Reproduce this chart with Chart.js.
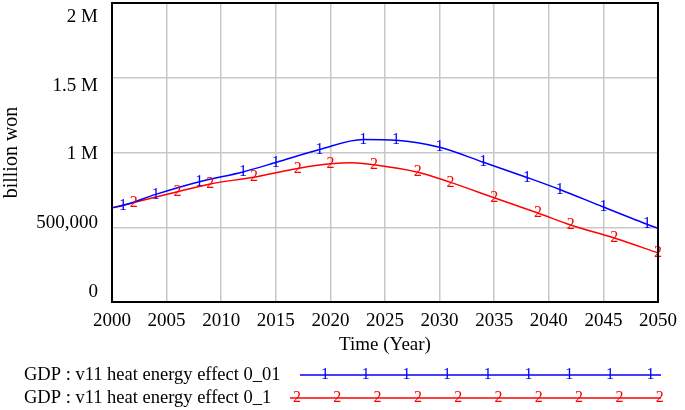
<!DOCTYPE html>
<html>
<head>
<meta charset="utf-8">
<script src="https://cdn.jsdelivr.net/npm/chart.js@4"></script>
<style>
  html, body { margin: 0; padding: 0; background: #fff; }
  #wrap { width: 685px; height: 410px; }
</style>
</head>
<body>
<div id="wrap"><canvas id="chart" width="685" height="410"></canvas></div>
<script>
// GDP run 1 (heat energy effect 0_01)
const blueYears = [2000, 2001, 2004, 2008, 2012, 2015, 2019, 2023, 2026, 2030, 2034, 2038, 2041, 2045, 2049, 2050];
const blueVals  = [630000, 645000, 720000, 805000, 870000, 933000, 1020000, 1087000, 1082000, 1035000, 935000, 833000, 753000, 635000, 520000, 493000];
const blueMarks = [2001, 2004, 2008, 2012, 2015, 2019, 2023, 2026, 2030, 2034, 2038, 2041, 2045, 2049];

// GDP run 2 (heat energy effect 0_1)
const redYears = [2000, 2002, 2006, 2009, 2013, 2017, 2020, 2022, 2024, 2028, 2031, 2035, 2039, 2042, 2046, 2050];
const redVals  = [630000, 665000, 738000, 790000, 835000, 893000, 924000, 932000, 918000, 868000, 800000, 697000, 595000, 515000, 428000, 328000];
const redMarks = [2002, 2006, 2009, 2013, 2017, 2020, 2024, 2028, 2031, 2035, 2039, 2042, 2046, 2050];

const yTicks = [0, 500000, 1000000, 1500000, 2000000];
const yTickLabels = ['0', '500,000', '1 M', '1.5 M', '2 M'];

const seriesNames = ['GDP : v11 heat energy effect 0_01', 'GDP : v11 heat energy effect 0_1'];
const seriesColors = ['#0000ff', '#ff0000'];
const seriesGlyphs = ['1', '2'];

const FONT = '"Liberation Serif", "Times New Roman", serif';

function toPoints(xs, ys) {
    return xs.map((x, i) => ({ x: x, y: ys[i] }));
}

// number glyphs on the lines, Vensim style
const markerPlugin = {
    id: 'markers',
    afterDatasetsDraw(chart) {
        const ctx = chart.ctx;
        const marks = [blueMarks, redMarks];
        ctx.save();
        ctx.font = '16px ' + FONT;
        ctx.textAlign = 'center';
        ctx.textBaseline = 'middle';
        chart.data.datasets.forEach((ds, di) => {
            const meta = chart.getDatasetMeta(di);
            ds.data.forEach((p, i) => {
                if (marks[di].indexOf(p.x) === -1) return;
                const el = meta.data[i];
                ctx.fillStyle = seriesColors[di];
                ctx.fillText(seriesGlyphs[di], el.x, el.y);
            });
        });
        ctx.restore();
    }
};

// frame, y labels and bottom legend
const framePlugin = {
    id: 'frame',
    afterDraw(chart) {
        const ctx = chart.ctx;
        const a = chart.chartArea;
        const ys = chart.scales.y;
        ctx.save();
        ctx.strokeStyle = '#000';
        ctx.lineWidth = 2;
        ctx.strokeRect(a.left, a.top, a.right - a.left, a.bottom - a.top);

        // y tick labels (drifted like the original)
        ctx.font = '19px ' + FONT;
        ctx.fillStyle = '#000';
        ctx.textAlign = 'right';
        ctx.textBaseline = 'middle';
        yTicks.forEach((v, i) => {
            const off = -10 + 24 * (v / ys.max);
            ctx.fillText(yTickLabels[i], a.left - 14, ys.getPixelForValue(v) + off);
        });

        // legend
        const rows = [
            { y: 375, x0: 300, x1: 661, first: 325, step: 40.7, n: 9 },
            { y: 398, x0: 290, x1: 661, first: 297, step: 40.3, n: 10 }
        ];
        rows.forEach((r, i) => {
            ctx.textAlign = 'left';
            ctx.font = '18.5px ' + FONT;
            ctx.fillStyle = '#000';
            ctx.fillText(seriesNames[i], 24, r.y);
            ctx.strokeStyle = seriesColors[i];
            ctx.lineWidth = 1.5;
            ctx.beginPath();
            ctx.moveTo(r.x0, r.y);
            ctx.lineTo(r.x1, r.y);
            ctx.stroke();
            ctx.textAlign = 'center';
            ctx.font = '16px ' + FONT;
            ctx.fillStyle = seriesColors[i];
            for (let k = 0; k < r.n; k++) {
                ctx.fillText(seriesGlyphs[i], r.first + k * r.step, r.y);
            }
        });
        ctx.restore();
    }
};

new Chart(document.getElementById('chart').getContext('2d'), {
    type: 'line',
    data: {
        datasets: [
            {
                label: seriesNames[0],
                data: toPoints(blueYears, blueVals),
                borderColor: seriesColors[0],
                borderWidth: 1.5,
                pointRadius: 0,
                cubicInterpolationMode: 'monotone'
            },
            {
                label: seriesNames[1],
                data: toPoints(redYears, redVals),
                borderColor: seriesColors[1],
                borderWidth: 1.5,
                pointRadius: 0,
                cubicInterpolationMode: 'monotone'
            }
        ]
    },
    options: {
        responsive: false,
        animation: false,
        layout: { padding: { top: 3, right: 22, left: 0, bottom: 50 } },
        plugins: {
            legend: { display: false },
            tooltip: { enabled: false }
        },
        scales: {
            x: {
                type: 'linear',
                min: 2000,
                max: 2050,
                afterFit: function(scale) { scale.height = 58; },
                ticks: {
                    stepSize: 5,
                    padding: 8,
                    color: '#000',
                    font: { family: FONT, size: 19 },
                    callback: v => String(v)
                },
                grid: { color: '#c8c8c8', lineWidth: 1.5, drawTicks: false },
                border: { display: false },
                title: {
                    display: true,
                    text: 'Time (Year)',
                    color: '#000',
                    font: { family: FONT, size: 19 }
                }
            },
            y: {
                min: 0,
                max: 2000000,
                afterFit: function(scale) { scale.width = 112; },
                ticks: { stepSize: 500000, display: false },
                grid: { color: '#c8c8c8', lineWidth: 1.5, drawTicks: false },
                border: { display: false },
                title: {
                    display: true,
                    text: 'billion won',
                    color: '#000',
                    padding: { top: 0, bottom: 0 },
                    font: { family: FONT, size: 20 }
                }
            }
        }
    },
    plugins: [markerPlugin, framePlugin]
});
</script>
</body>
</html>
